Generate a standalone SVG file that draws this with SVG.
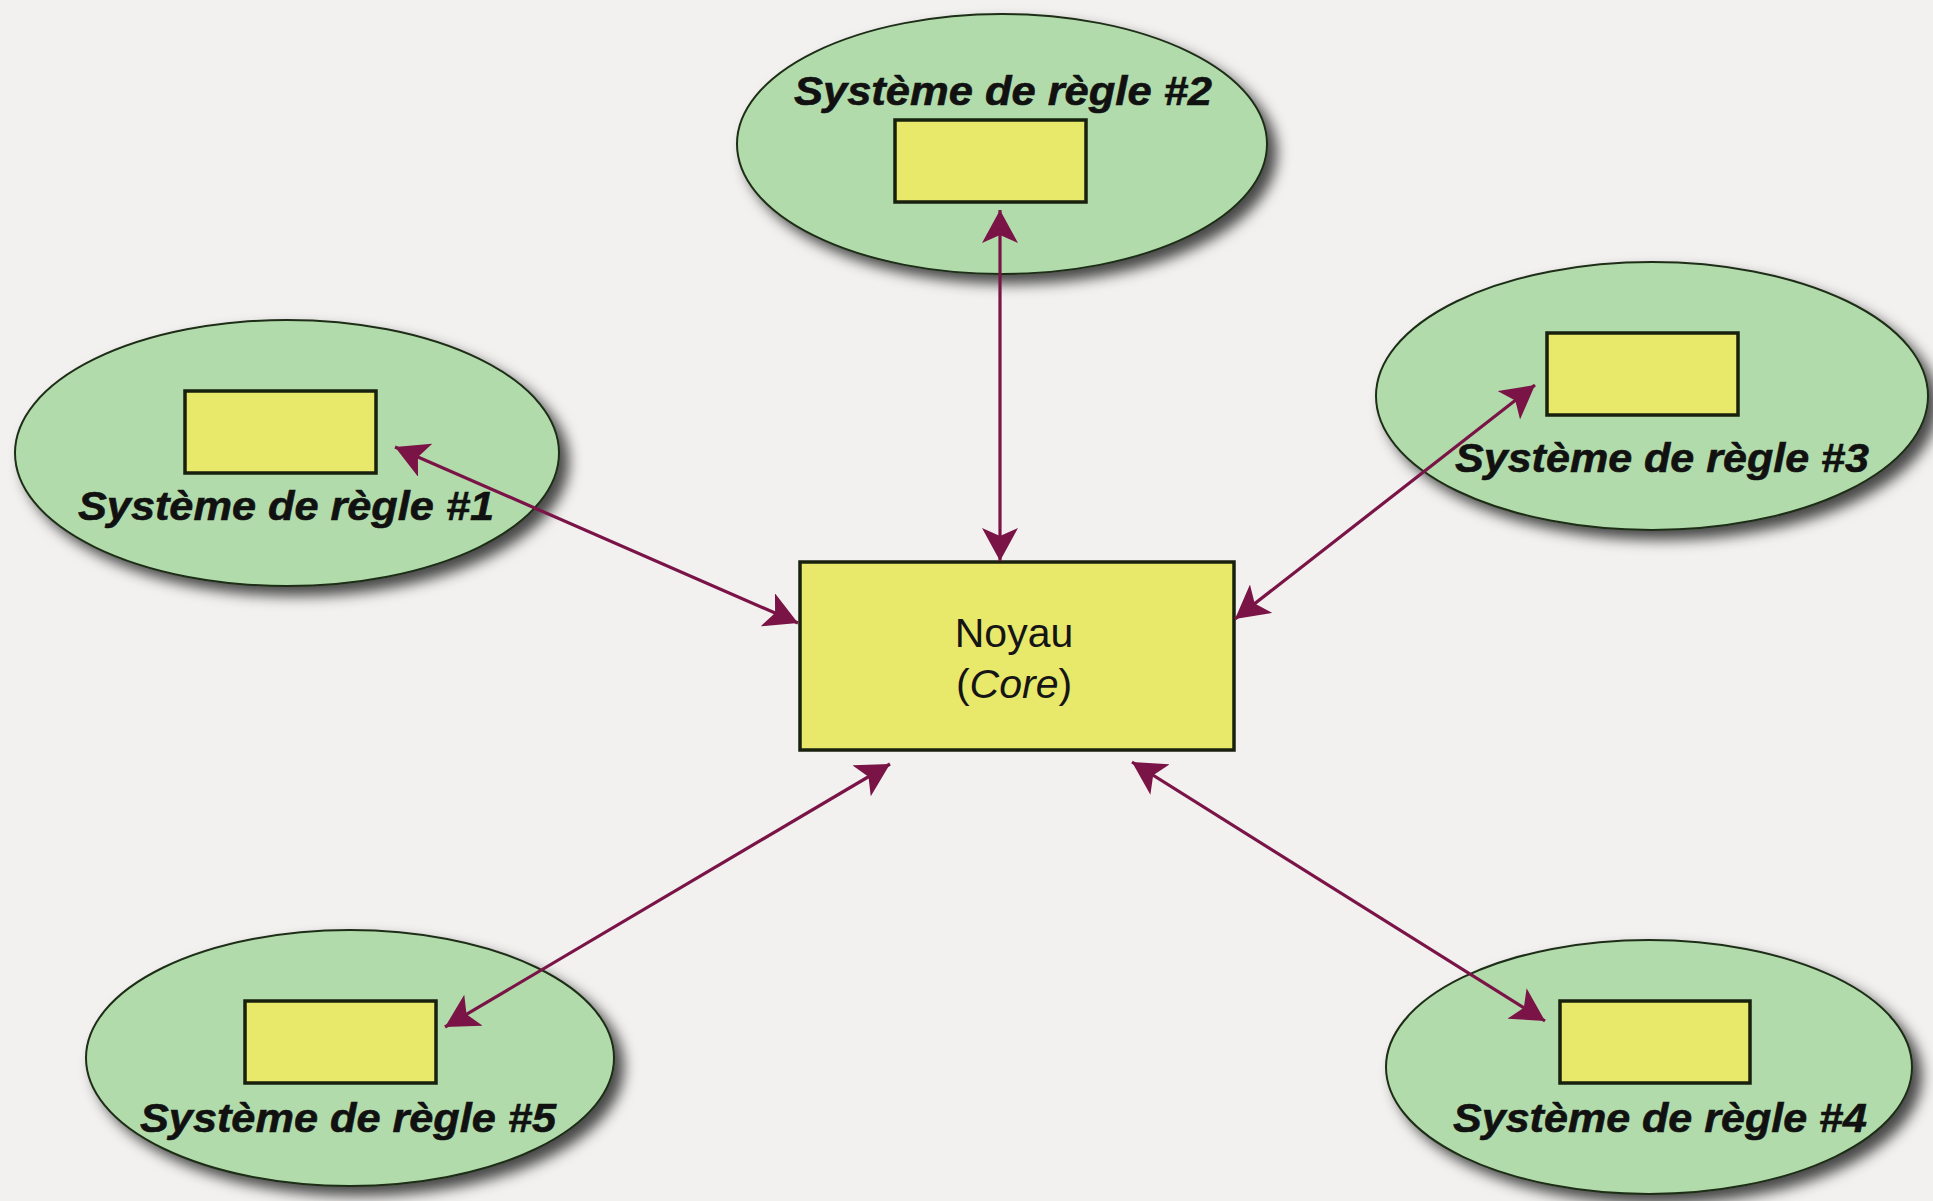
<svg xmlns="http://www.w3.org/2000/svg" width="1933" height="1201" viewBox="0 0 1933 1201">
  <defs>
    <filter id="shadow" x="-15%" y="-15%" width="135%" height="140%">
      <feDropShadow dx="9" dy="9" stdDeviation="7" flood-color="#000" flood-opacity="0.7"/>
    </filter>
    <marker id="head" viewBox="0 0 34 36" refX="33" refY="18" markerWidth="34" markerHeight="36" markerUnits="userSpaceOnUse" orient="auto-start-reverse">
      <path d="M0,0 L33,18 L0,36 L8,18 Z" fill="#7a1446"/>
    </marker>
    <style>
      .bubble { fill: #b2dbab; stroke: #1f2d18; stroke-width: 2; filter: url(#shadow); }
      .box { fill: #e8e86a; stroke: #18200e; stroke-width: 3.5; }
      .label { font-family: "Liberation Sans", Arial, sans-serif; font-weight: bold; font-style: italic; font-size: 40px; fill: #111; text-anchor: middle; stroke: #111; stroke-width: 0.6; }
      .core-text { font-family: "Liberation Sans", Arial, sans-serif; font-size: 41px; fill: #151515; text-anchor: middle; }
      .link { stroke: #7a1446; stroke-width: 3.2; fill: none; marker-start: url(#head); marker-end: url(#head); }
    </style>
  </defs>

  <rect width="1933" height="1201" fill="#f2f1f0"/>

  <g id="rule1">
    <ellipse class="bubble" cx="287" cy="453" rx="272" ry="133"/>
    <rect class="box" x="185" y="391" width="191" height="82"/>
    <text class="label" x="286" y="520" textLength="416" lengthAdjust="spacingAndGlyphs">Système de règle #1</text>
  </g>

  <g id="rule2">
    <ellipse class="bubble" cx="1002" cy="144" rx="265" ry="130"/>
    <rect class="box" x="895" y="120" width="191" height="82"/>
    <text class="label" x="1003" y="105" textLength="418" lengthAdjust="spacingAndGlyphs">Système de règle #2</text>
  </g>

  <g id="rule3">
    <ellipse class="bubble" cx="1652" cy="396" rx="276" ry="134"/>
    <rect class="box" x="1547" y="333" width="191" height="82"/>
    <text class="label" x="1662" y="472" textLength="414" lengthAdjust="spacingAndGlyphs">Système de règle #3</text>
  </g>

  <g id="rule4">
    <ellipse class="bubble" cx="1649" cy="1067" rx="263" ry="127"/>
    <rect class="box" x="1560" y="1001" width="190" height="82"/>
    <text class="label" x="1660" y="1132" textLength="414" lengthAdjust="spacingAndGlyphs">Système de règle #4</text>
  </g>

  <g id="rule5">
    <ellipse class="bubble" cx="350" cy="1058" rx="264" ry="128"/>
    <rect class="box" x="245" y="1001" width="191" height="82"/>
    <text class="label" x="348" y="1132" textLength="416" lengthAdjust="spacingAndGlyphs">Système de règle #5</text>
  </g>

  <g id="core">
    <rect class="box" x="800" y="562" width="434" height="188"/>
    <text class="core-text" x="1014" y="647">Noyau</text>
    <text class="core-text" x="1014" y="698">(<tspan font-style="italic">Core</tspan>)</text>
  </g>

  <g id="connectors">
    <line class="link" x1="395" y1="447" x2="798" y2="623"/>
    <line class="link" x1="1000" y1="210" x2="1000" y2="561"/>
    <line class="link" x1="1535" y1="385" x2="1235" y2="619"/>
    <line class="link" x1="1132" y1="762" x2="1545" y2="1021"/>
    <line class="link" x1="890" y1="764" x2="445" y2="1027"/>
  </g>
</svg>
